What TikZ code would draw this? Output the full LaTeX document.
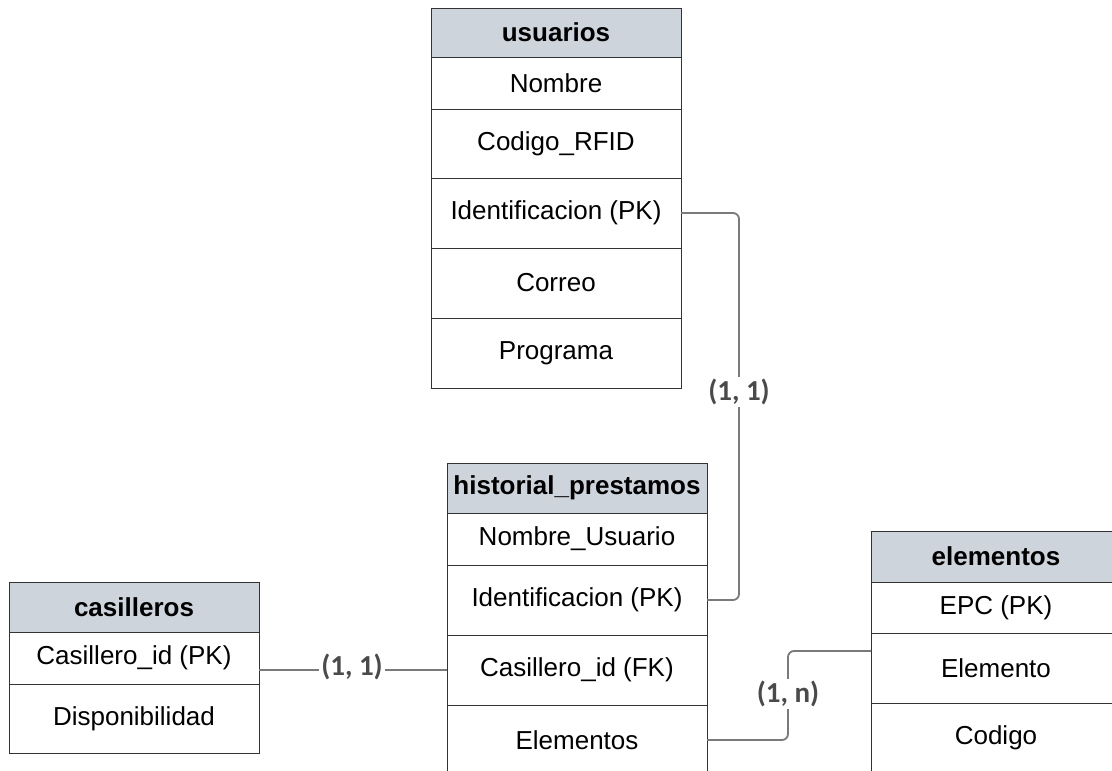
\documentclass[tikz,border=0pt]{standalone}
\usepackage{fontspec}
\setmainfont{Liberation Sans}
\newfontfamily\labelfont{Carlito}
\usetikzlibrary{calc}

\definecolor{headfill}{HTML}{CED4DC}
\definecolor{cellline}{HTML}{333333}
\definecolor{linkgray}{HTML}{7A7A7A}
\definecolor{cardgray}{HTML}{4A4A4A}

\tikzset{
  cell/.style={draw=cellline, line width=1pt, fill=white, anchor=north west,
    inner sep=0pt, outer sep=0pt, font=\fontsize{26}{30}\selectfont},
  headcell/.style={cell, fill=headfill, font=\fontsize{26}{30}\selectfont\bfseries},
  link/.style={draw=linkgray, line width=1.8pt, rounded corners=6pt},
  card/.style={fill=white, inner sep=2pt, text=cardgray,
    font=\fontsize{29}{32}\selectfont\labelfont\bfseries},
}

\begin{document}
\begin{tikzpicture}[x=1pt, y=-1pt]
\useasboundingbox (0,0) rectangle (1112,771);
\clip (0,0) rectangle (1112,771);

% usuarios
\node[headcell, minimum width=250pt, minimum height=49pt] (u0) at (431,8) {usuarios};
\node[cell, minimum width=250pt, minimum height=52pt] (u1) at (431,57) {Nombre};
\node[cell, minimum width=250pt, minimum height=69pt] (u2) at (431,109) {Codigo\_RFID};
\node[cell, minimum width=250pt, minimum height=70pt] (u3) at (431,178) {Identificacion (PK)};
\node[cell, minimum width=250pt, minimum height=70pt] (u4) at (431,248) {Correo};
\node[cell, minimum width=250pt, minimum height=70pt] (u5) at (431,318) {Programa};

% historial_prestamos
\node[headcell, minimum width=260pt, minimum height=50pt] (h0) at (447,463) {historial\_prestamos};
\node[cell, minimum width=260pt, minimum height=52pt] (h1) at (447,513) {Nombre\_Usuario};
\node[cell, minimum width=260pt, minimum height=70pt] (h2) at (447,565) {Identificacion (PK)};
\node[cell, minimum width=260pt, minimum height=70pt] (h3) at (447,635) {Casillero\_id (FK)};
\node[cell, minimum width=260pt, minimum height=70pt] (h4) at (447,705) {Elementos};

% casilleros
\node[headcell, minimum width=250pt, minimum height=50pt] (c0) at (9,582) {casilleros};
\node[cell, minimum width=250pt, minimum height=52pt] (c1) at (9,632) {Casillero\_id (PK)};
\node[cell, minimum width=250pt, minimum height=69pt] (c2) at (9,684) {Disponibilidad};

% elementos
\node[headcell, minimum width=250pt, minimum height=51pt] (e0) at (871,531) {elementos};
\node[cell, minimum width=250pt, minimum height=51pt] (e1) at (871,582) {EPC (PK)};
\node[cell, minimum width=250pt, minimum height=70pt] (e2) at (871,633) {Elemento};
\node[cell, minimum width=250pt, minimum height=70pt] (e3) at (871,703) {Codigo};

% relationships
\coordinate (r1) at (739,400);
\coordinate (r3) at (788,651);

\draw[link] (u3.east) -| (r1) |- (h2.east);
\node[card] (l1) at (739,392) {(1, 1)};

\draw[link] (h3.west) -- (h3.west -| c1.east);
\node[card] (l2) at (352,667) {(1, 1)};

\draw[link] (h4.east) -| (r3) -- (r3 -| e2.west);
\node[card] (l3) at (788,694) {(1, n)};
\end{tikzpicture}
\end{document}
